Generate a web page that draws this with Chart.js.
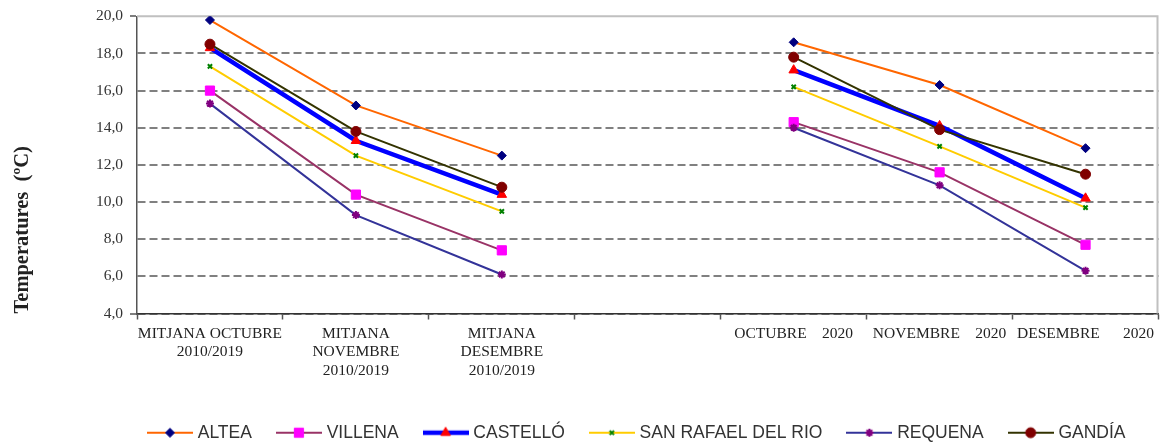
<!DOCTYPE html>
<html><head><meta charset="utf-8">
<script src="https://cdn.jsdelivr.net/npm/chart.js@4/dist/chart.umd.min.js"></script>
<style>html,body{margin:0;padding:0;background:#fff}#wrap{width:1166px;height:445px;position:relative}</style>
</head><body><div id="wrap"><canvas id="c"></canvas></div>
<script>
const categories = [
  ['MITJANA OCTUBRE', '2010/2019'],
  ['MITJANA', 'NOVEMBRE', '2010/2019'],
  ['MITJANA', 'DESEMBRE', '2010/2019'],
  '',
  'OCTUBRE    2020',
  'NOVEMBRE    2020',
  'DESEMBRE      2020'
];
const seriesNames = ['ALTEA', 'VILLENA', 'CASTELLÓ', 'SAN RAFAEL DEL RIO', 'REQUENA', 'GANDÍA'];
const altea     = [19.8, 15.2, 12.5, null, 18.6, 16.3, 12.9];
const villena   = [16.0, 10.4, 7.4, null, 14.3, 11.6, 7.7];
const castello  = [18.3, 13.3, 10.4, null, 17.1, 14.1, 10.2];
const sanRafael = [17.3, 12.5, 9.5, null, 16.2, 13.0, 9.7];
const requena   = [15.3, 9.3, 6.1, null, 14.0, 10.9, 6.3];
const gandia    = [18.5, 13.8, 10.8, null, 17.8, 13.9, 11.5];
const yMin = 4, yMax = 20, yStep = 2;

const seriesValues = [altea, villena, castello, sanRafael, requena, gandia];
const styles = [
  {line:'#FF6600', width:2,   marker:'rectRot',  radius:4.5, fill:'#000080', stroke:'#000080', mw:1},
  {line:'#993366', width:2,   marker:'rect',     radius:6.5, fill:'#FF00FF', stroke:'#FF00FF', mw:1},
  {line:'#0000FF', width:4.5, marker:'triangle', radius:5.5, fill:'#FF0000', stroke:'#FF0000', mw:1},
  {line:'#FFCC00', width:2,   marker:'crossRot', radius:3,   fill:'#008000', stroke:'#008000', mw:2},
  {line:'#333399', width:2,   marker:'star',     radius:4,   fill:'#800080', stroke:'#800080', mw:2},
  {line:'#333300', width:2,   marker:'circle',   radius:5,   fill:'#800000', stroke:'#800000', mw:1}
];

function makeIcon(s) {
  const c = document.createElement('canvas');
  c.width = 46; c.height = 14;
  const g = c.getContext('2d');
  g.strokeStyle = s.line; g.lineWidth = s.width;
  g.beginPath(); g.moveTo(0, 7); g.lineTo(46, 7); g.stroke();
  g.fillStyle = s.fill; g.strokeStyle = s.stroke; g.lineWidth = s.mw;
  if (Chart.helpers && Chart.helpers.drawPoint) {
    Chart.helpers.drawPoint(g, {pointStyle: s.marker, radius: s.radius, borderWidth: s.mw, rotation: 0}, 23, 7);
  }
  return c;
}
const icons = styles.map(makeIcon);

const datasets = seriesNames.map((name, i) => ({
  label: name,
  data: seriesValues[i],
  borderColor: styles[i].line,
  backgroundColor: styles[i].fill,
  borderWidth: styles[i].width,
  pointStyle: styles[i].marker,
  pointRadius: styles[i].radius,
  pointHoverRadius: styles[i].radius,
  pointBackgroundColor: styles[i].fill,
  pointBorderColor: styles[i].stroke,
  pointBorderWidth: styles[i].mw,
  tension: 0,
  spanGaps: false,
  order: seriesNames.length - i
}));

const frame = {
  id: 'frame',
  beforeDatasetsDraw(chart) {
    const {ctx, chartArea: a} = chart;
    ctx.save();
    ctx.strokeStyle = '#c0c0c0';
    ctx.lineWidth = 2;
    ctx.beginPath();
    ctx.moveTo(a.left, a.top);
    ctx.lineTo(a.right - 1, a.top);
    ctx.lineTo(a.right - 1, a.bottom);
    ctx.stroke();
    ctx.restore();
  }
};
const legendShift = {
  id: 'legendShift',
  afterLayout(chart) {
    const L = chart.legend;
    if (!L || !L.lineWidths) return;
    const pad = L.options.labels.padding;
    const x0 = (L.left + pad + L.right - L.lineWidths[0]) / 2;
    const dx = 151 - x0;
    const dy = 6.5;
    L.left += dx; L.right += dx; L.top += dy; L.bottom += dy;
  }
};

new Chart(document.getElementById('c'), {
  type: 'line',
  data: {labels: categories, datasets},
  plugins: [frame, legendShift],
  options: {
    responsive: true,
    maintainAspectRatio: false,
    animation: false,
    layout: {padding: {top: 16, right: 0, bottom: 0, left: 0}},
    plugins: {
      tooltip: {enabled: false},
      legend: {
        position: 'bottom',
        labels: {
          usePointStyle: true,
          pointStyleWidth: 38,
          boxHeight: 14,
          padding: 28,
          color: '#333',
          font: {family: 'Liberation Sans', size: 17.5},
          sort: (a, b) => a.datasetIndex - b.datasetIndex,
          generateLabels: (chart) => Chart.defaults.plugins.legend.labels.generateLabels(chart)
            .map(l => Object.assign(l, {pointStyle: icons[l.datasetIndex]}))
        }
      }
    },
    scales: {
      x: {
        offset: true,
        grid: {offset: true, drawOnChartArea: false, tickLength: 6, tickColor: '#555', tickWidth: 1.5},
        border: {color: '#333', width: 1.5},
        ticks: {autoSkip: false, maxRotation: 0, minRotation: 0, padding: 5, color: '#222',
          font: {family: 'Liberation Serif', size: 15.5, lineHeight: 1.2}},
        afterFit: s => { s.height = 76; }
      },
      y: {
        min: yMin, max: yMax,
        ticks: {stepSize: yStep, padding: 7, color: '#333',
          font: {family: 'Liberation Serif', size: 15.5},
          callback: v => Number(v).toFixed(1).replace('.', ',')},
        grid: {
          lineWidth: 2,
          color: c => (c.tick && c.tick.value === yMax) ? 'rgba(0,0,0,0)' : '#808080',
          tickLength: 7,
          tickWidth: 1.5,
          tickColor: c => (c.tick && (c.tick.value === yMax || c.tick.value === yMin)) ? '#555' : 'rgba(0,0,0,0)'
        },
        border: {display: true, color: '#555', width: 1.5, dash: [8, 4]},
        title: {display: true, text: 'Temperatures  (ºC)', align: 'start', color: '#222',
          font: {family: 'Liberation Serif', size: 20.5, weight: 'bold', lineHeight: 1.2},
          padding: {top: 10, bottom: 0}},
        afterFit: s => { s.width = 137; }
      }
    }
  }
});
</script>
</body></html>
